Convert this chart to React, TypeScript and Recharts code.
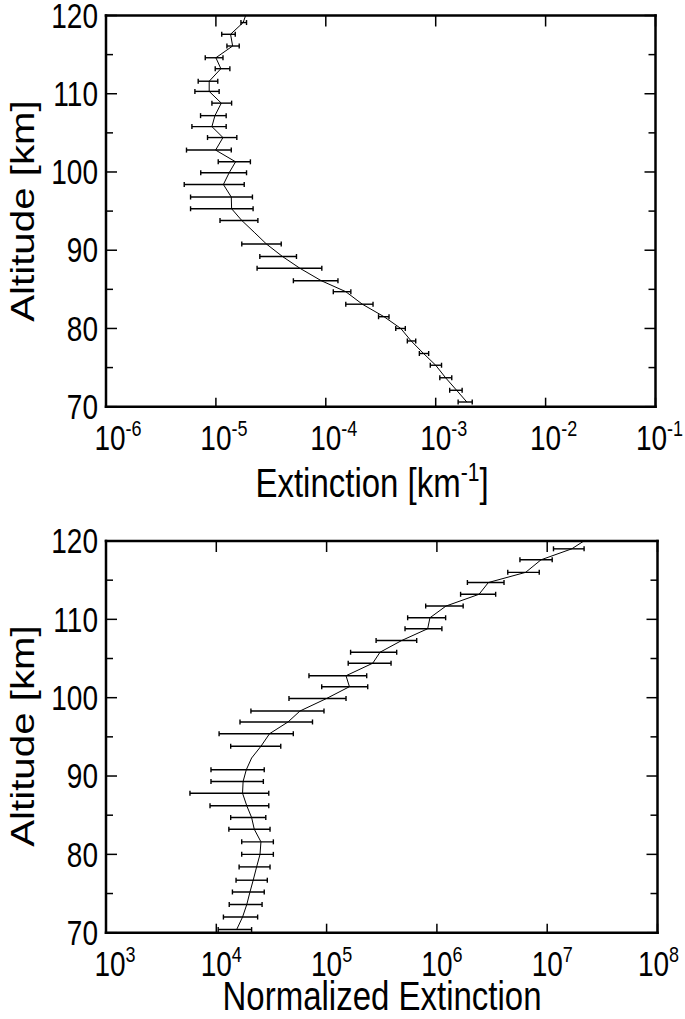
import React from 'react';
import { ComposedChart, Line, XAxis, YAxis, ErrorBar } from 'recharts';

// ---------- Top panel: Extinction [km^-1] vs altitude ----------
const topAltitude = [70.6, 72.1, 73.7, 75.3, 76.8, 78.4, 80.0, 81.5, 83.1, 84.7, 86.1, 87.7, 89.2, 90.8, 92.3, 93.8, 95.3, 96.8, 98.4, 99.9, 101.3, 102.8, 104.4, 105.8, 107.2, 108.8, 110.3, 111.6, 113.2, 114.6, 116.1, 117.6, 119.1, 120.6];
const topExtinction = [1.92e-3, 1.55e-3, 1.23e-3, 1.0e-3, 7.75e-4, 5.98e-4, 4.81e-4, 3.39e-4, 2.15e-4, 1.52e-4, 9.1e-5, 5.8e-5, 4.03e-5, 2.88e-5, 2.23e-5, 1.72e-5, 1.39e-5, 1.38e-5, 1.17e-5, 1.32e-5, 1.51e-5, 9.94e-6, 1.16e-5, 9.2e-6, 9.8e-6, 1.12e-5, 8.69e-6, 8.69e-6, 1.11e-5, 1.0e-5, 1.42e-5, 1.36e-5, 1.77e-5, 1.93e-5];
const topLow = [1.6e-3, 1.34e-3, 1.09e-3, 8.93e-4, 7.1e-4, 5.52e-4, 4.33e-4, 3.02e-4, 1.52e-4, 1.17e-4, 5.07e-5, 2.37e-5, 2.51e-5, 1.72e-5, null, 1.09e-5, 5.88e-6, 5.88e-6, 5.15e-6, 7.28e-6, 1.05e-5, 5.4e-6, 8.39e-6, 6.05e-6, 7.25e-6, 9.2e-6, 6.44e-6, 6.9e-6, 9.86e-6, 8.0e-6, 1.26e-5, 1.13e-5, 1.69e-5, null];
const topHigh = [2.15e-3, 1.74e-3, 1.4e-3, 1.13e-3, 8.63e-4, 6.58e-4, 5.29e-4, 3.76e-4, 2.69e-4, 1.69e-4, 1.29e-4, 9.2e-5, 5.41e-5, 3.93e-5, null, 2.41e-5, 2.18e-5, 2.15e-5, 1.81e-5, 1.9e-5, 2.06e-5, 1.38e-5, 1.55e-5, 1.24e-5, 1.24e-5, 1.39e-5, 1.07e-5, 1.04e-5, 1.34e-5, 1.16e-5, 1.63e-5, 1.5e-5, 1.9e-5, null];
const topXTicks = [1e-6, 1e-5, 1e-4, 1e-3, 1e-2, 1e-1];

// ---------- Bottom panel: Normalized extinction vs altitude ----------
const bottomAltitude = [70.4, 72.0, 73.6, 75.2, 76.7, 78.4, 80.0, 81.6, 83.2, 84.7, 86.2, 87.8, 89.3, 90.8, 92.3, 93.8, 95.4, 96.9, 98.3, 99.9, 101.4, 102.8, 104.4, 105.8, 107.3, 108.8, 110.2, 111.7, 113.2, 114.7, 116.0, 117.6, 119.0, 120.5];
const bottomNormalized = [1.53e4, 1.73e4, 1.89e4, 2.02e4, 2.16e4, 2.32e4, 2.49e4, 2.54e4, 2.21e4, 2.09e4, 1.89e4, 1.73e4, 1.75e4, 1.87e4, 2.09e4, 2.54e4, 3.04e4, 4.47e4, 5.74e4, 1.0e5, 1.61e5, 1.5e5, 2.62e5, 3.05e5, 4.8e5, 8.25e5, 8.65e5, 1.21e6, 2.41e6, 2.93e6, 6.38e6, 8.79e6, 1.67e7, 2.44e7];
const bottomLow = [1.04e4, 1.16e4, 1.31e4, 1.4e4, 1.51e4, 1.61e4, 1.7e4, 1.7e4, 1.3e4, 1.35e4, 8.77e3, 5.77e3, 8.95e3, 8.95e3, null, 1.35e4, 1.06e4, 1.64e4, 2.06e4, 4.56e4, 9.03e4, 6.92e4, 1.57e5, 1.65e5, 2.81e5, 5.14e5, 5.43e5, 7.91e5, 1.64e6, 1.89e6, 4.39e6, 5.66e6, 1.14e7, null];
const bottomHigh = [2.09e4, 2.37e4, 2.6e4, 2.72e4, 2.9e4, 3.07e4, 3.29e4, 3.29e4, 3.07e4, 2.81e4, 2.99e4, 2.99e4, 2.67e4, 2.72e4, null, 3.84e4, 4.99e4, 7.45e4, 9.47e4, 1.5e5, 2.36e5, 2.31e5, 3.84e5, 4.32e5, 6.56e5, 1.11e6, 1.2e6, 1.73e6, 3.41e6, 4.06e6, 8.47e6, 1.11e7, 2.16e7, null];
const bottomXTicks = [1e3, 1e4, 1e5, 1e6, 1e7, 1e8];

const altitudeTicks = [70, 75, 80, 85, 90, 95, 100, 105, 110, 115, 120];

// ---------- styling ----------
const FONT = '"Liberation Sans", Arial, Helvetica, sans-serif';
const STRETCH = 1.22;
const TICK_FS = 28;
const SUP_FS = 18;
const TITLE_FS = 33;

type Row = { alt: number; val: number; err: [number, number] | null };

function buildRows(alt: number[], val: number[], lo: (number | null)[], hi: (number | null)[]): Row[] {
  return alt.map((a, i) => {
    const l = lo[i];
    const h = hi[i];
    return {
      alt: a,
      val: val[i],
      err: l == null || h == null ? null : [val[i] - l, h - val[i]],
    };
  });
}

const topRows = buildRows(topAltitude, topExtinction, topLow, topHigh);
const bottomRows = buildRows(bottomAltitude, bottomNormalized, bottomLow, bottomHigh);

function makeBottomXTick(ticks: number[]) {
  return function BottomXTick(props: any) {
    const { x, y, payload } = props;
    const v = payload.value;
    const exp = Math.round(Math.log10(v));
    const w10 = TICK_FS * 1.112;
    let shift = 0;
    if (v === ticks[0]) shift = 4;
    if (v === ticks[ticks.length - 1]) shift = -4;
    return (
      <g>
        <line x1={x} x2={x} y1={y} y2={y - 9} stroke="#000" strokeWidth={1.5} />
        <text
          transform={`translate(${x - w10 / 2 + shift},${y + 43}) scale(1,${STRETCH})`}
          fontFamily={FONT}
          fontSize={TICK_FS}
          fill="#000"
        >
          10
          <tspan fontSize={SUP_FS} dy={-11}>
            {String(exp)}
          </tspan>
        </text>
      </g>
    );
  };
}

function TopXTick(props: any) {
  const { x, y } = props;
  return <line x1={x} x2={x} y1={y} y2={y + 11} stroke="#000" strokeWidth={1.5} />;
}

function LeftYTick(props: any) {
  const { x, y, payload } = props;
  const v = payload.value;
  const major = v % 10 === 0;
  const capHalf = 0.358 * TICK_FS * STRETCH;
  return (
    <g>
      <line x1={x} x2={x + (major ? 11 : 7)} y1={y} y2={y} stroke="#000" strokeWidth={1.5} />
      {major && (
        <text
          transform={`translate(${x - 8},${y + capHalf}) scale(1,${STRETCH})`}
          textAnchor="end"
          fontFamily={FONT}
          fontSize={TICK_FS}
          fill="#000"
        >
          {String(v)}
        </text>
      )}
    </g>
  );
}

function RightYTick(props: any) {
  const { x, y, payload } = props;
  const major = payload.value % 10 === 0;
  return <line x1={x} x2={x - (major ? 11 : 7)} y1={y} y2={y} stroke="#000" strokeWidth={1.5} />;
}

const axisLineStyle = { stroke: '#000', strokeWidth: 2.5, strokeLinecap: 'square' as const };

type PanelProps = {
  rows: Row[];
  ticks: number[];
  height: number;
  margin: { top: number; right: number; bottom: number; left: number };
};

function Panel({ rows, ticks, height, margin }: PanelProps) {
  const domain: [number, number] = [ticks[0], ticks[ticks.length - 1]];
  const BottomTick = makeBottomXTick(ticks);
  return (
    <ComposedChart width={685} height={height} data={rows} layout="vertical" margin={margin}>
      <XAxis
        xAxisId="bottom"
        type="number"
        dataKey="val"
        scale="log"
        domain={domain}
        ticks={ticks}
        interval={0}
        allowDataOverflow
        orientation="bottom"
        height={1}
        tickSize={0}
        tickMargin={0}
        tickLine={false}
        axisLine={axisLineStyle}
        tick={<BottomTick />}
      />
      <XAxis
        xAxisId="top"
        type="number"
        scale="log"
        domain={domain}
        ticks={ticks}
        interval={0}
        allowDataOverflow
        orientation="top"
        height={1}
        tickSize={0}
        tickMargin={0}
        tickLine={false}
        axisLine={axisLineStyle}
        tick={<TopXTick />}
      />
      <YAxis
        yAxisId="left"
        type="number"
        dataKey="alt"
        domain={[70, 120]}
        ticks={altitudeTicks}
        interval={0}
        reversed
        allowDataOverflow
        orientation="left"
        width={1}
        tickSize={0}
        tickMargin={0}
        tickLine={false}
        axisLine={axisLineStyle}
        tick={<LeftYTick />}
      />
      <YAxis
        yAxisId="right"
        type="number"
        dataKey="alt"
        domain={[70, 120]}
        ticks={altitudeTicks}
        interval={0}
        reversed
        allowDataOverflow
        orientation="right"
        width={1}
        tickSize={0}
        tickMargin={0}
        tickLine={false}
        axisLine={axisLineStyle}
        tick={<RightYTick />}
      />
      <Line
        xAxisId="bottom"
        yAxisId="left"
        dataKey="val"
        type="linear"
        stroke="#000"
        strokeWidth={1}
        dot={false}
        activeDot={false}
        isAnimationActive={false}
      >
        <ErrorBar dataKey="err" direction="x" width={2.5} stroke="#000" strokeWidth={1.4} isAnimationActive={false} />
      </Line>
    </ComposedChart>
  );
}

export default function App() {
  return (
    <div style={{ position: 'absolute', left: 0, top: 0, width: 685, height: 1019, background: '#fff', overflow: 'hidden' }}>
      <div style={{ position: 'absolute', left: 0, top: 0 }}>
        <Panel rows={topRows} ticks={topXTicks} height={510} margin={{ top: 14.5, left: 105, right: 28.5, bottom: 102.3 }} />
      </div>
      <div style={{ position: 'absolute', left: 0, top: 510 }}>
        <Panel rows={bottomRows} ticks={bottomXTicks} height={509} margin={{ top: 30, left: 105, right: 26.5, bottom: 85.3 }} />
      </div>
      <svg width={685} height={1019} style={{ position: 'absolute', left: 0, top: 0, pointerEvents: 'none' }}>
        <g fontFamily={FONT} fill="#000">
          <text transform={`translate(372,497) scale(1,${STRETCH})`} textAnchor="middle" fontSize={TITLE_FS}>
            Extinction [km
            <tspan fontSize={21} dy={-13}>
              -1
            </tspan>
            <tspan dy={13}>]</tspan>
          </text>
          <text transform={`translate(382,1010) scale(1,${STRETCH})`} textAnchor="middle" fontSize={TITLE_FS}>
            Normalized Extinction
          </text>
          <text transform={`translate(34,211) rotate(-90) scale(${STRETCH},1)`} textAnchor="middle" fontSize={TITLE_FS}>
            Altitude [km]
          </text>
          <text transform={`translate(34,736) rotate(-90) scale(${STRETCH},1)`} textAnchor="middle" fontSize={TITLE_FS}>
            Altitude [km]
          </text>
        </g>
      </svg>
    </div>
  );
}
